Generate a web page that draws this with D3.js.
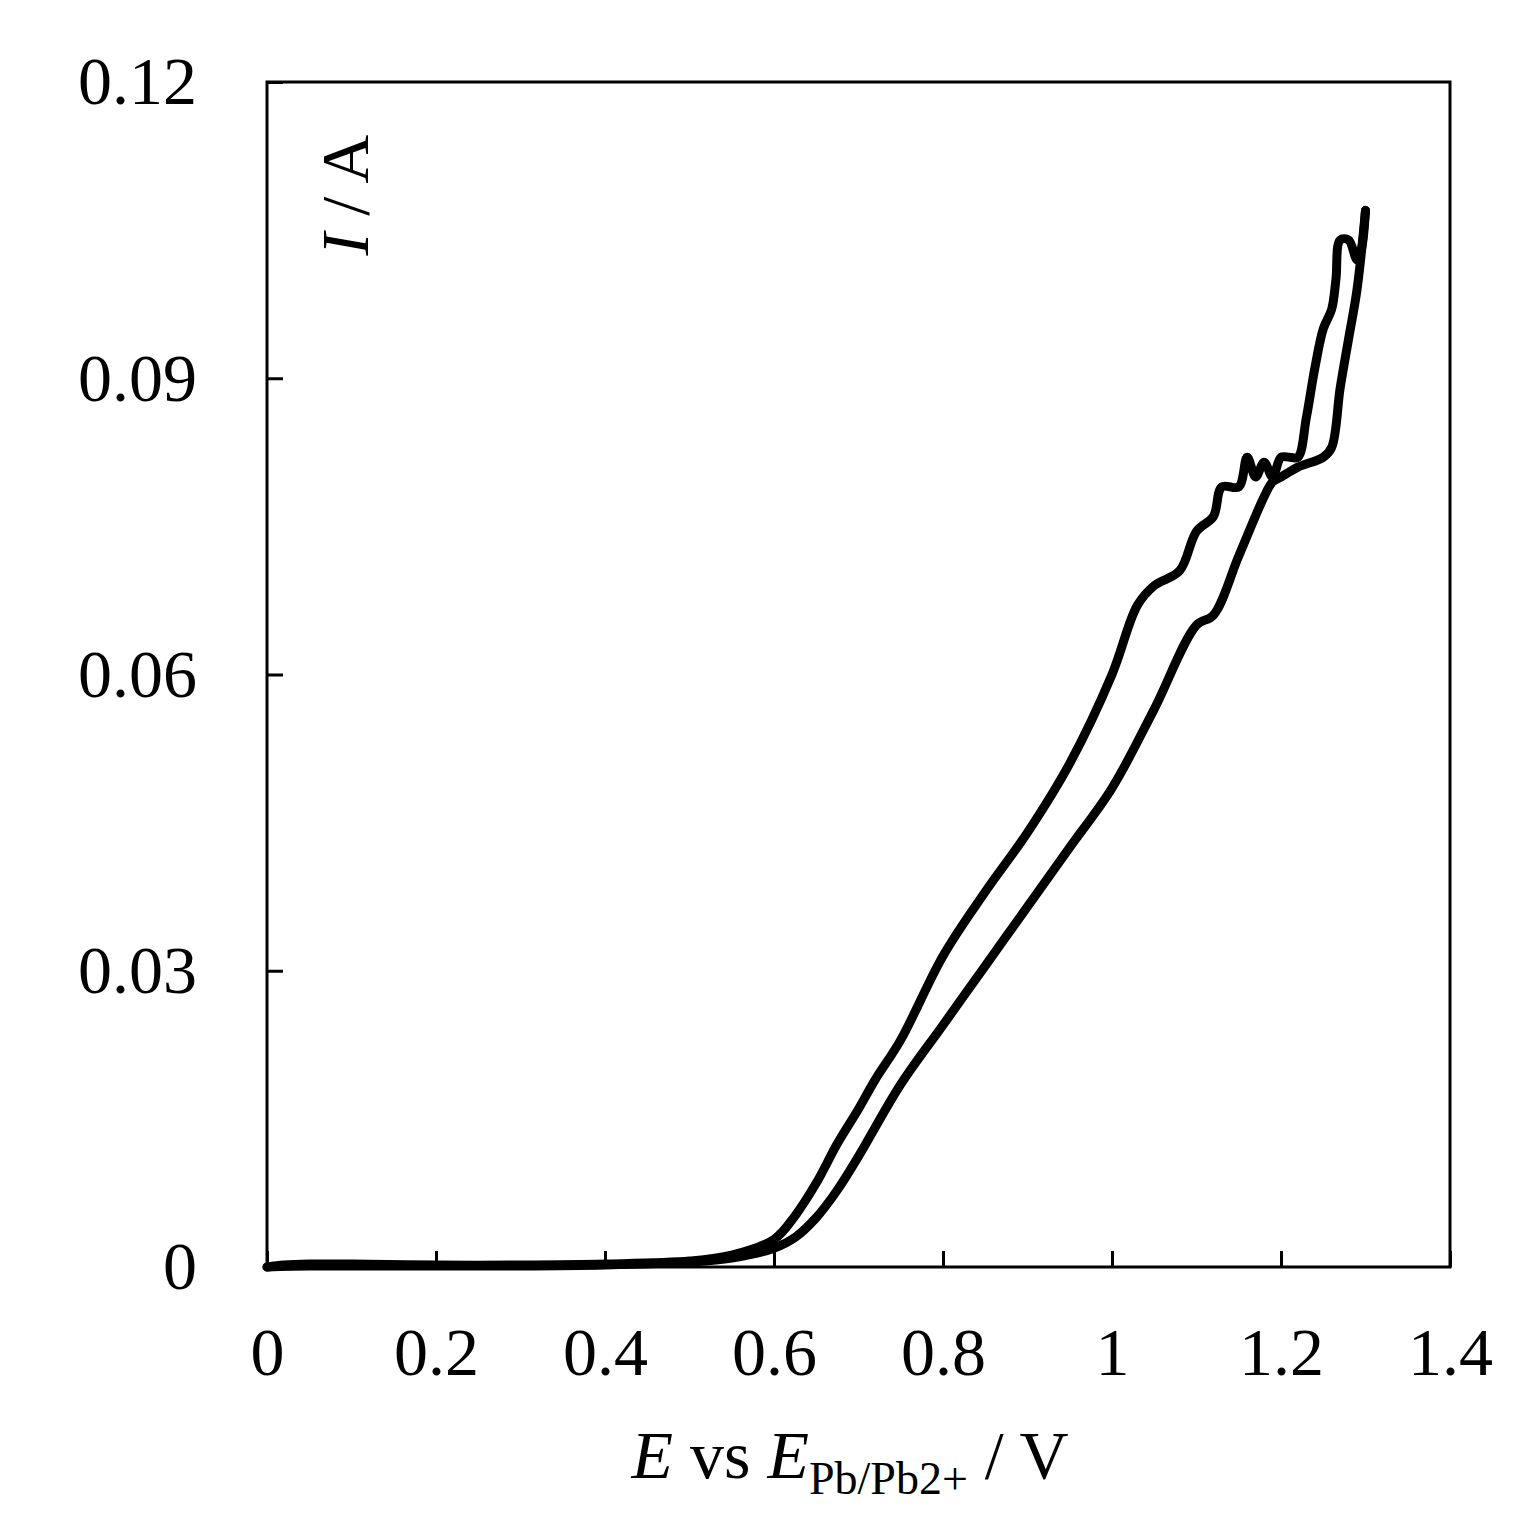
<!DOCTYPE html>
<html><head><meta charset="utf-8">
<script src="https://cdn.jsdelivr.net/npm/d3@7"></script>
<style>body{margin:0;background:#fff}</style>
</head><body>
<svg id="c" width="1538" height="1530"></svg>
<script>
// forward scan (lower branch), E in V, I in A
const forwardE = [0,0.05,0.1,0.2,0.3,0.4,0.5,0.55,0.6,0.625,0.65,0.675,0.7,0.75,0.8,0.85,0.9,0.95,1.0,1.05,1.1,1.12,1.15,1.18,1.19,1.2,1.22,1.25,1.26,1.27,1.28,1.29,1.3];
const forwardI = [0,0.0001,0.0001,0.0001,0.0001,0.0002,0.0005,0.0009,0.0019,0.003,0.005,0.0078,0.0112,0.0185,0.0245,0.0305,0.0365,0.0425,0.0485,0.0565,0.065,0.066,0.072,0.078,0.0795,0.080,0.081,0.082,0.083,0.089,0.094,0.099,0.107];
// reverse scan (upper branch)
const reverseE = [1.3,1.295,1.29,1.28,1.27,1.265,1.26,1.25,1.24,1.23,1.22,1.21,1.2,1.19,1.18,1.17,1.16,1.15,1.13,1.12,1.1,1.08,1.05,1.03,1.0,0.95,0.9,0.85,0.8,0.75,0.72,0.7,0.675,0.65,0.625,0.6,0.55,0.5,0.4,0.3,0.2,0.1,0.05,0.02,0];
const reverseI = [0.107,0.103,0.102,0.104,0.104,0.100,0.097,0.095,0.091,0.086,0.082,0.082,0.082,0.080,0.0815,0.080,0.082,0.079,0.079,0.076,0.0745,0.0705,0.069,0.067,0.060,0.051,0.044,0.038,0.0315,0.023,0.019,0.016,0.0125,0.0085,0.0052,0.0028,0.0012,0.0006,0.0003,0.0002,0.0002,0.0003,0.0003,0.0002,0];
const xTicks = [0,0.2,0.4,0.6,0.8,1,1.2,1.4];
const yTicks = [0,0.03,0.06,0.09,0.12];

const svg = d3.select("#c");
const L = 267, R = 1450, T = 82, B = 1267;
const x = d3.scaleLinear().domain([0, 1.4]).range([L, R]);
const y = d3.scaleLinear().domain([0, 0.12]).range([B, T]);
const font = "Liberation Serif, Times New Roman, serif";
const fs = 68;

svg.append("g").attr("transform", `translate(0,${B})`)
  .call(d3.axisBottom(x).tickValues(xTicks).tickSize(-16).tickPadding(60).tickFormat(d => d3.format("")(d)))
  .call(g => { g.select(".domain").remove(); g.selectAll("line").attr("stroke-width", 3); g.selectAll("text").attr("font-size", fs).attr("font-family", font).attr("dy", "0.71em"); });
svg.append("g").attr("transform", `translate(${L},0)`)
  .call(d3.axisLeft(y).tickValues(yTicks).tickSize(-16).tickPadding(70).tickFormat(d => d === 0 ? "0" : d3.format(".2f")(d)))
  .call(g => { g.select(".domain").remove(); g.selectAll("line").attr("stroke-width", 3); g.selectAll("text").attr("font-size", fs).attr("font-family", font); });

svg.append("rect").attr("x", L).attr("y", T).attr("width", R - L).attr("height", B - T)
  .attr("fill", "none").attr("stroke", "#000").attr("stroke-width", 3);

const line = d3.line().x(d => x(d[0])).y(d => y(d[1])).curve(d3.curveCatmullRom.alpha(0.5));
[[forwardE, forwardI], [reverseE, reverseI]].forEach(([e, i]) => {
  svg.append("path").datum(e.map((v, k) => [v, i[k]])).attr("d", line)
    .attr("fill", "none").attr("stroke", "#000").attr("stroke-width", 9)
    .attr("stroke-linejoin", "round").attr("stroke-linecap", "round");
});

svg.append("text").attr("transform", "translate(368,195) rotate(-90)").attr("text-anchor", "middle")
  .attr("font-family", font).attr("font-size", fs)
  .html('<tspan font-style="italic">I</tspan> / A');
svg.append("text").attr("x", 850).attr("y", 1478).attr("text-anchor", "middle")
  .attr("font-family", font).attr("font-size", fs)
  .html('<tspan font-style="italic">E</tspan> vs <tspan font-style="italic">E</tspan><tspan font-size="46" dy="16">Pb/Pb2+</tspan><tspan dy="-16"> / V</tspan>');
</script>
</body></html>
